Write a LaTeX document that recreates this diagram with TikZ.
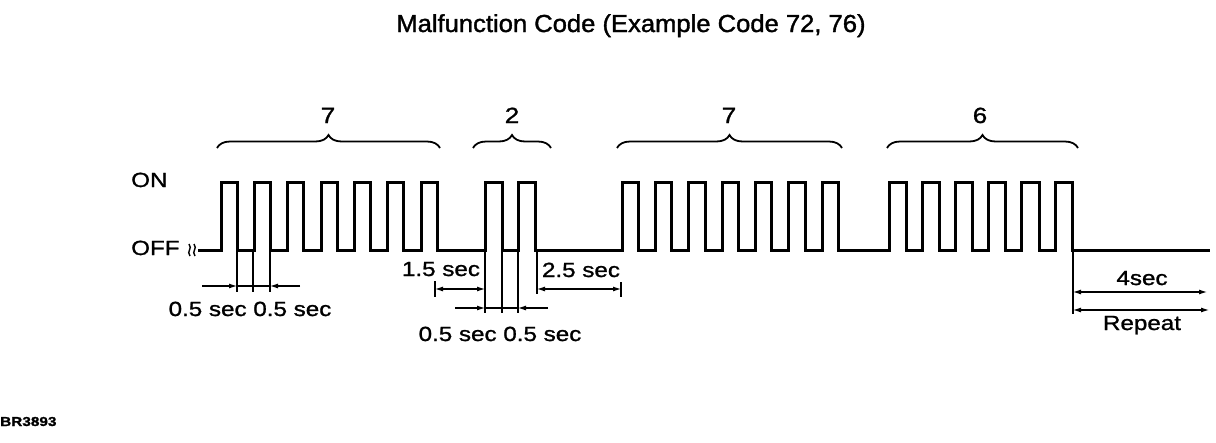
\documentclass[tikz,border=0pt]{standalone}
\usepackage{fontspec}
\setmainfont{Liberation Sans}[FakeStretch=1.18,FakeBold=1.2]
\newfontfamily\titlefont{Liberation Sans}[FakeStretch=1.04,FakeBold=1.4]
\usetikzlibrary{decorations.pathreplacing,arrows.meta}
\tikzset{
  wave/.style={line width=3pt, line join=miter},
  dim/.style={line width=1.1pt},
  tip/.style={-{Latex[length=8pt,width=5pt]}},
  tips/.style={{Latex[length=8pt,width=5pt]}-{Latex[length=8pt,width=5pt]}},
  brc/.style={decorate, decoration={brace, amplitude=13pt}, line width=1.8pt},
  lbl/.style={font=\fontsize{20.5}{21}\selectfont, inner sep=0pt, anchor=base},
  big/.style={font=\fontsize{22}{22}\selectfont, inner sep=0pt, anchor=base},
}
\begin{document}
\begin{tikzpicture}[x=1pt,y=-1pt]
\useasboundingbox (0,0) rectangle (1216,442);
% title
\node[font=\titlefont\fontsize{24.6}{25}\selectfont, inner sep=0pt, anchor=base] (title) at (631,32) {Malfunction Code (Example Code 72, 76)};
% levels
\node[lbl, anchor=base west] (on) at (131,187) {ON};
\node[lbl, anchor=base west] (off) at (131,255) {OFF};
% break mark
\draw[line width=1.4pt] (190,256) .. controls (186,251) and (193,249) .. (189,244);
\draw[line width=1.4pt] (195,256) .. controls (191,251) and (198,249) .. (194,244);
% waveform
\draw[wave] (198,250)
  foreach \r/\w in {221/16,254.3/16,287.7/16,321/16,354.3/16,387.7/16,421/16,
                    485/17,518/17,
                    622/16.5,655.3/16.5,688.7/16.5,722/16.5,755.3/16.5,788.7/16.5,822/16.5,
                    889/17.5,922/17.5,955/17.5,988/17.5,1021.5/17.5,1055/17.5}
  { -- (\r,250) -- (\r,182) -- ({\r+\w},182) -- ({\r+\w},250) }
  -- (1210,250);
% braces and digits
\draw[brc] (217,148) -- (440,148);
\node[big] (d1) at (328,123) {7};
\draw[brc] (473,148) -- (551,148);
\node[big] (d2) at (512,123) {2};
\draw[brc] (617,148) -- (842,148);
\node[big] (d3) at (729,123) {7};
\draw[brc] (887,148) -- (1078,148);
\node[big] (d4) at (980,123) {6};
% dimension group 1
\coordinate (a1) at (237,286); \coordinate (a2) at (253,286); \coordinate (a3) at (270,286);
\coordinate (a0) at (202,286); \coordinate (a4) at (300,286);
\draw[dim] (237,252) -- (237,292) (253,252) -- (253,292) (270,252) -- (270,292);
\draw[dim,tip] (a0) -- (a1);
\draw[dim] (a1) -- (a3);
\draw[dim,tip] (a4) -- (a3);
\fill (a2) circle (1.6);
\node[lbl] (t1) at (250,316) {0.5 sec 0.5 sec};
% dimension group 2
\coordinate (b1) at (485,308); \coordinate (b2) at (502,308); \coordinate (b3) at (518,308);
\coordinate (b0) at (455,308); \coordinate (b4) at (548,308);
\draw[dim] (485,252) -- (485,313) (502,252) -- (502,313) (518,252) -- (518,313);
\draw[dim,tip] (b0) -- (b1);
\draw[dim] (b1) -- (b3);
\draw[dim,tip] (b4) -- (b3);
\fill (b2) circle (1.6);
\node[lbl] (t2) at (500,341) {0.5 sec 0.5 sec};
% 1.5 sec
\coordinate (c0) at (435,289); \coordinate (c1) at (485,289);
\draw[dim] (435,281) -- (435,297);
\draw[dim,tips] (c0) -- (c1);
\node[lbl] (t3) at (441,276) {1.5 sec};
% 2.5 sec
\coordinate (e0) at (537,289); \coordinate (e1) at (621,289);
\draw[dim] (537,252) -- (537,294) (621,282) -- (621,297);
\draw[dim,tips] (e0) -- (e1);
\node[lbl] (t4) at (581,277) {2.5 sec};
% 4 sec and repeat
\coordinate (f0) at (1073,292); \coordinate (f1) at (1207,292);
\coordinate (g0) at (1073,310); \coordinate (g1) at (1209,310);
\draw[dim] (1073,252) -- (1073,314);
\draw[dim,tips] (f0) -- (f1);
\draw[dim,tips] (g0) -- (g1);
\node[lbl] (t5) at (1142,285) {4sec};
\node[lbl] (t6) at (1142,330) {Repeat};
% figure id
\node[font=\fontsize{13}{13}\selectfont\bfseries, inner sep=0pt, anchor=base west] (id) at (0,426) {BR3893};
\end{tikzpicture}
\end{document}
